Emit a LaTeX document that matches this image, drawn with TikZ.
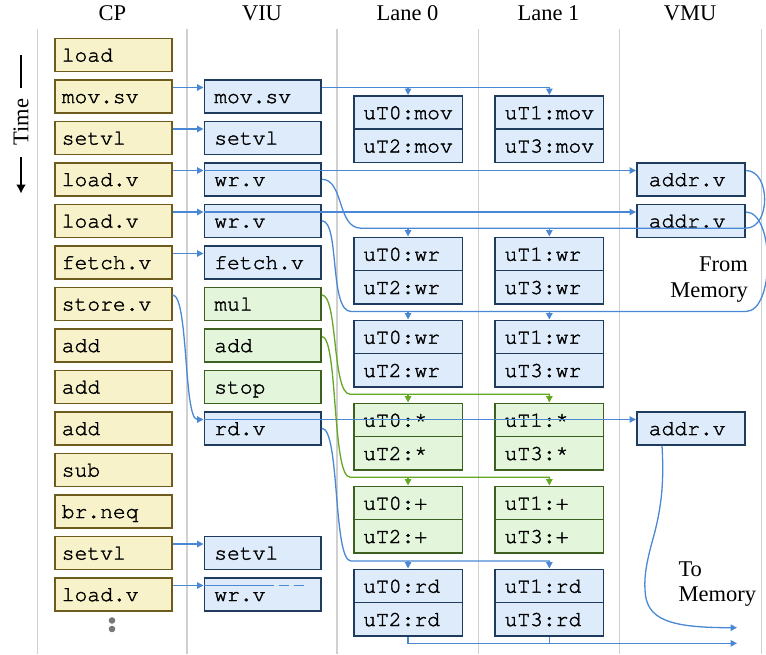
\documentclass[tikz,border=0pt]{standalone}
\usepackage{fontspec}
\setmainfont{Liberation Serif}
\setmonofont[FakeBold=1.6]{texgyrecursor-regular.otf}
\usetikzlibrary{arrows.meta,calc}

\definecolor{cpfill}{HTML}{F7F2C9}
\definecolor{cpdraw}{HTML}{6E5C1E}
\definecolor{bfill}{HTML}{DDEBFA}
\definecolor{bdraw}{HTML}{1F3B5E}
\definecolor{gfill}{HTML}{E3F5DA}
\definecolor{gdraw}{HTML}{3D5F1F}
\definecolor{ablue}{HTML}{4A88D6}
\definecolor{agreen}{HTML}{63A823}
\definecolor{sepgray}{HTML}{D0D0D0}
\definecolor{dotgray}{HTML}{777777}

\begin{document}
\begin{tikzpicture}[x=1pt,y=-1pt,
  serif/.style={font=\fontsize{22.5}{27}\selectfont},
  code/.style={font=\fontsize{21.3}{25}\ttfamily},
  boxbase/.style={draw, line width=1.6pt, anchor=north west, minimum height=33pt,
    inner ysep=0pt, text height=17.5pt, text depth=4pt, align=left, code},
  cpbox/.style={boxbase, fill=cpfill, draw=cpdraw, inner xsep=7pt, text width=103pt},
  viub/.style={boxbase, fill=bfill, draw=bdraw, inner xsep=10pt, text width=96.8pt},
  viug/.style={boxbase, fill=gfill, draw=gdraw, inner xsep=10pt, text width=96.8pt},
  lanebox/.style={boxbase, inner xsep=9.5pt, text width=89.5pt, minimum height=33.3pt},
  vmub/.style={boxbase, fill=bfill, draw=bdraw, inner xsep=12pt, text width=84.3pt},
  wire/.style={draw=ablue, line width=1.3pt},
  conn/.style={wire, -{Triangle[length=6.5pt,width=6.5pt]}},
  gwire/.style={draw=agreen, line width=1.3pt},
  gconn/.style={gwire, -{Triangle[length=6.5pt,width=6.5pt]}},
  sepline/.style={draw=sepgray, line width=1.8pt}
]
\useasboundingbox (0,0) rectangle (766,654);

% column separators
\foreach \x/\n in {37.5/a,187/b,337/c,478.5/d,619.5/e,761.5/f}{
  \coordinate (s\n1) at (\x,29);
  \coordinate (s\n2) at (\x,654);
  \draw[sepline] (s\n1) -- (s\n2);
}

% headers
\node[serif, anchor=base] (hcp)  at (112.5,20) {CP};
\node[serif, anchor=base] (hviu) at (262,20) {VIU};
\node[serif, anchor=base] (hl0)  at (407.5,20) {Lane 0};
\node[serif, anchor=base] (hl1)  at (548.5,20) {Lane 1};
\node[serif, anchor=base] (hvmu) at (690,20) {VMU};

% time arrow
\node[serif, rotate=90] (time) at (21,122) {Time};
\coordinate (t1) at (21,55);
\coordinate (t2) at (21,88);
\coordinate (t3) at (21,157);
\coordinate (t4) at (21,193.5);
\draw[line width=1.7pt] (t1) -- (t2);
\draw[line width=1.7pt, -{Latex[length=9pt,width=10pt]}] (t3) -- (t4);

% CP column
\foreach \i/\t in {0/load,1/mov.sv,2/setvl,3/load.v,4/load.v,5/fetch.v,6/store.v,
                   7/add,8/add,9/add,10/sub,11/br.neq,12/setvl,13/load.v}{
  \node[cpbox] (cp\i) at (54,{37.5+41.5*\i}) {\t};
}
\node[circle, fill=dotgray, inner sep=0pt, minimum size=6.6pt] (dot1) at (112,620.5) {};
\node[circle, fill=dotgray, inner sep=0pt, minimum size=6.6pt] (dot2) at (112,629) {};

% VIU column
\foreach \i/\t in {1/mov.sv,2/setvl,3/wr.v,4/wr.v,5/fetch.v,9/rd.v,12/setvl,13/wr.v}{
  \node[viub] (v\i) at (203.5,{37.5+41.5*\i}) {\t};
}
\foreach \i/\t in {6/mul,7/add,8/stop}{
  \node[viug] (v\i) at (203.5,{37.5+41.5*\i}) {\t};
}

% lanes
\foreach \k/\y/\op/\fc/\dc in {0/95/mov/bfill/bdraw, 1/236.5/wr/bfill/bdraw,
    2/319.5/wr/bfill/bdraw, 3/402.5/*/gfill/gdraw, 4/485.5/+/gfill/gdraw,
    5/568.5/rd/bfill/bdraw}{
  \node[lanebox, fill=\fc, draw=\dc] (la\k) at (353,\y) {uT0:\op};
  \node[lanebox, fill=\fc, draw=\dc] (lb\k) at (353,\y+33.3) {uT2:\op};
  \node[lanebox, fill=\fc, draw=\dc] (ma\k) at (494.3,\y) {uT1:\op};
  \node[lanebox, fill=\fc, draw=\dc] (mb\k) at (494.3,\y+33.3) {uT3:\op};
}

% VMU
\node[vmub] (m3) at (636,162) {addr.v};
\node[vmub] (m4) at (636,203.5) {addr.v};
\node[vmub] (m9) at (636,411) {addr.v};

% texts
\node[serif, anchor=base east] (from1) at (751.5,271.7) {From};
\node[serif, anchor=base east] (from2) at (751.5,297) {Memory};
\node[serif, anchor=base west] (to1) at (675,576.7) {To};
\node[serif, anchor=base west] (to2) at (675,601.7) {Memory};

% CP -> VIU
\foreach \i in {1,2,3,4,5,12,13}{
  \draw[conn] ($(cp\i.north east)+(0,8.5)$) -- ($(v\i.north west)+(0,8.5)$);
}
\draw[conn] ($(v3.north west)+(0,8.5)$) -- ($(m3.north west)+(0,8.5)$);
\draw[conn] ($(v4.north west)+(0,8.5)$) -- ($(m4.north west)+(0,8.5)$);
\coordinate (d13a) at ($(v13.north west)+(60,8.5)$);
\coordinate (d13b) at ($(v13.north west)+(100,8.5)$);
\draw[wire] ($(v13.north west)+(0,8.5)$) -- (d13a);
\draw[wire, dash pattern=on 10pt off 5pt] (d13a) -- (d13b);

% store.v -> rd.v -> addr.v
\draw[conn] ($(cp6.north east)+(0,8.5)$) .. controls +(16,0) and +(-20,0) .. ($(v9.north west)+(0,8.5)$);
\draw[conn] ($(v9.north west)+(0,8.5)$) -- ($(m9.north west)+(0,8.5)$);

% mov.sv -> lanes
\draw[conn] ($(v1.north east)+(0,8.5)$) -| (ma0.north);
\draw[conn] ($(la0.north)+(0,-7.5)$) -- (la0.north);

% wr.v (row 3) + from memory
\draw[wire] (v3.east) .. controls +(22,0) and +(-24,0) .. ($(la1.north west)+(8,-8.3)$)
   -- ($(m3.east |- la1.north)+(0,-8.3)$)
   .. controls +(25,0) and +(25,0) .. ($(m3.north east)+(0,8.5)$);
\draw[conn] ($(la1.north)+(0,-8.3)$) -- (la1.north);
\draw[conn] ($(ma1.north)+(0,-8.3)$) -- (ma1.north);

% wr.v (row 4) + from memory
\draw[wire] (v4.east) .. controls +(18,0) and +(-22,0) .. ($(la2.north west)+(-2,-8)$)
   -- ($(m4.east |- la2.north)+(0,-8)$)
   .. controls +(29,0) and +(29,0) .. ($(m4.north east)+(0,8.5)$);
\draw[conn] ($(la2.north)+(0,-8)$) -- (la2.north);
\draw[conn] ($(ma2.north)+(0,-8)$) -- (ma2.north);

% mul
\draw[gconn] ($(v6.north east)+(0,8.5)$) .. controls +(16,0) and +(-18,0) .. ($(la3.north west)+(-3,-8.3)$) -| (ma3.north);
\draw[gconn] ($(la3.north)+(0,-8.3)$) -- (la3.north);
% add
\draw[gconn] ($(v7.north east)+(0,8.5)$) .. controls +(16,0) and +(-18,0) .. ($(la4.north west)+(-3,-8.3)$) -| (ma4.north);
\draw[gconn] ($(la4.north)+(0,-8.3)$) -- (la4.north);

% rd.v -> lanes
\draw[conn] (v9.east) .. controls +(18,0) and +(-18,0) .. ($(la5.north west)+(-2,-7.5)$) -| (ma5.north);
\draw[conn] ($(la5.north)+(0,-7.5)$) -- (la5.north);

% to memory (lanes)
\coordinate (out1) at (737,643.3);
\draw[conn] (lb5.south) |- (out1);
\draw[wire] (mb5.south) -- (mb5.south |- out1);

% addr.v -> to memory
\coordinate (out2) at (737,627.7);
\draw[conn] ($(m9.south west)+(26,0)$) .. controls (664,480) and (662,505) .. (654,535)
   .. controls (647,560) and (644,575) .. (645,590)
   .. controls (646,620) and (670,627.7) .. (out2);
\end{tikzpicture}
\end{document}
